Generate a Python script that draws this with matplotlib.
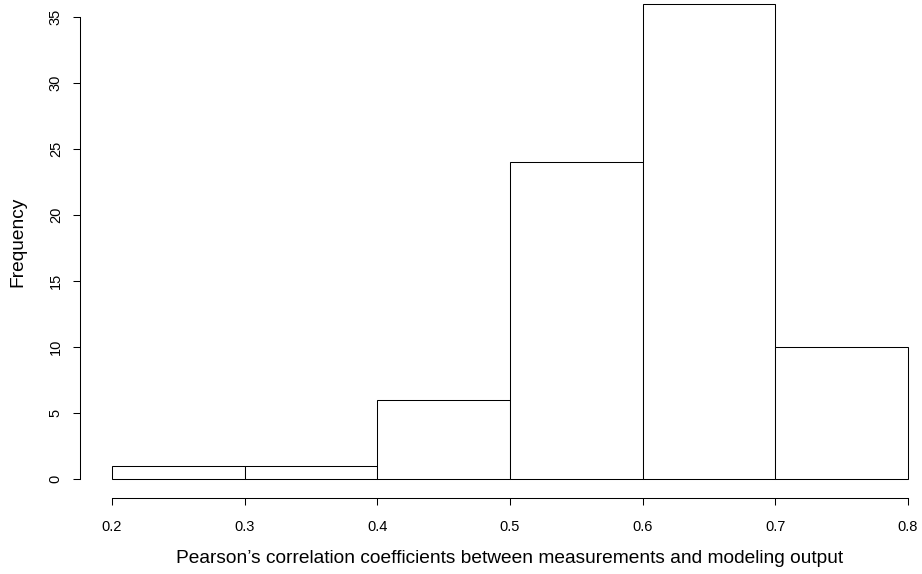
import matplotlib.pyplot as plt
import numpy as np

plt.rcParams['font.family'] = ['Liberation Sans', 'DejaVu Sans']
plt.rcParams['font.size'] = 10.5

bin_edges = [0.2, 0.3, 0.4, 0.5, 0.6, 0.7, 0.8]
counts = [1, 1, 6, 24, 36, 10]
xticks = [0.2, 0.3, 0.4, 0.5, 0.6, 0.7, 0.8]
yticks = [0, 5, 10, 15, 20, 25, 30, 35]

W, H = 922, 574
fig = plt.figure(figsize=(W / 100, H / 100), dpi=100)
# R style plot region: 4% padding around data range
ax = fig.add_axes([80.2 / W, (H - 498) / H, 859.6 / W, 513 / H])

lefts = np.array(bin_edges[:-1])
widths = np.diff(bin_edges)
ax.bar(lefts, counts, width=widths, align='edge', facecolor='white',
       edgecolor='black', linewidth=0.75)

ax.set_xlim(0.176, 0.824)
ax.set_ylim(-1.44, 37.44)

for s in ['top', 'right']:
    ax.spines[s].set_visible(False)
ax.spines['left'].set_bounds(0, 35)
ax.spines['bottom'].set_bounds(0.2, 0.8)
ax.spines['left'].set_linewidth(0.75)
ax.spines['bottom'].set_linewidth(0.75)

ax.set_xticks(xticks)
ax.set_xticklabels([f'{t:.1f}' for t in xticks])
ax.set_yticks(yticks)
ax.set_yticklabels([str(t) for t in yticks], rotation=90, va='center')
ax.tick_params(direction='out', length=5, width=0.75)
ax.tick_params(axis='x', pad=10.5)
ax.tick_params(axis='y', pad=7.5)

ax.set_xlabel('Pearson\u2019s correlation coefficients between measurements and modeling output',
              fontsize=13.75)
ax.xaxis.set_label_coords(0.5, -0.102)
ax.set_ylabel('Frequency', fontsize=13.75)
ax.yaxis.set_label_coords(-0.063, 0.5)

plt.savefig('out.png', dpi=100)
